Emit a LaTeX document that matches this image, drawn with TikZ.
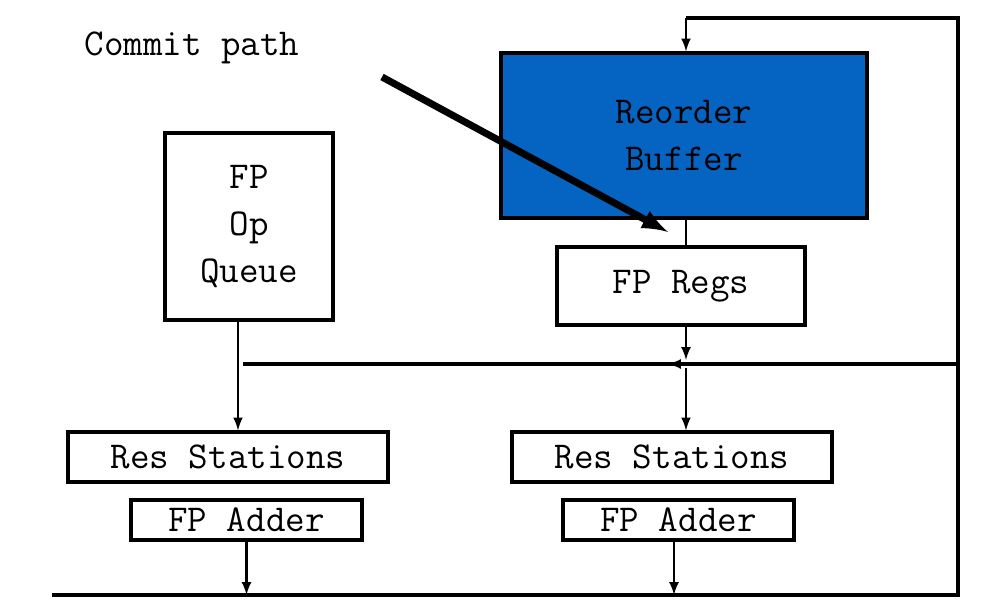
\documentclass[tikz,border=0pt]{standalone}
\usetikzlibrary{positioning}
\definecolor{robblue}{RGB}{5,99,193}

\tikzset{
  unit/.style={rectangle, draw, line width=1.9pt, inner sep=0pt, align=center,
    font=\ttfamily\fontsize{21.6}{27}\selectfont},
  wire/.style={line width=1.5pt},
  bus/.style={line width=2.3pt}
}

\begin{document}
\begin{tikzpicture}[x=0.02cm, y=-0.02cm, >=latex]
	\useasboundingbox (0,0) rectangle (995,612);
	\node(QUEUE) at (249, 226.5)[unit, minimum width=3.36cm, minimum height=3.74cm]{FP\\Op\\Queue};
	\node(ROB) at (684, 135.5)[unit, fill=robblue, minimum width=7.32cm, minimum height=3.3cm]{Reorder\\Buffer};
	\node(REGS) at (681, 286)[unit, minimum width=4.96cm, minimum height=1.56cm]{FP Regs};
	\node(RSL) at (228, 457)[unit, minimum width=6.4cm, minimum height=1cm]{Res Stations};
	\node(RSR) at (672, 457)[unit, minimum width=6.4cm, minimum height=1cm]{Res Stations};
	\node(ADDL) at (246.5, 520)[unit, minimum width=4.62cm, minimum height=0.8cm]{FP Adder};
	\node(ADDR) at (678.5, 520)[unit, minimum width=4.62cm, minimum height=0.8cm]{FP Adder};
	\node(COMMIT) at (192, 48)[font=\ttfamily\fontsize{21.6}{27}\selectfont]{Commit path};
	% buses
	\coordinate(BOTL) at (52, 595);
	\coordinate(BOTR) at (958, 595);
	\coordinate(TOPR) at (958, 18);
	\coordinate(TOPL) at (686, 18);
	\coordinate(MIDR) at (958, 364);
	\coordinate(MIDA) at (668, 364);
	\coordinate(MIDL) at (243, 364);
	\draw[bus] (BOTL) -- (BOTR) -- (TOPR) -- (TOPL);
	\draw[wire, ->] (TOPL) -- (TOPL |- ROB.north);
	\draw[bus] (MIDR) -- (MIDL);
	\draw[wire, ->] (MIDR) -- (MIDA);
	% connectors
	\draw[wire] ([xshift=0.04cm]ROB.south) -- ([xshift=0.04cm]ROB.south |- REGS.north);
	\draw[wire, ->] ([xshift=0.1cm]REGS.south) -- ([xshift=0.1cm, yshift=0.08cm]REGS.south |- MIDA);
	\draw[wire, ->] ([xshift=0.1cm, yshift=-0.08cm]REGS.south |- MIDA) -- ([xshift=0.1cm]REGS.south |- RSR.north);
	\draw[wire, ->] ([xshift=-0.22cm]QUEUE.south) -- ([xshift=-0.22cm]QUEUE.south |- RSL.north);
	\draw[wire, ->] (ADDL.south) -- (ADDL.south |- BOTL);
	\draw[wire, ->] ([xshift=-0.09cm]ADDR.south) -- ([xshift=-0.09cm]ADDR.south |- BOTR);
	% commit path
	\coordinate(CTAIL) at (382, 77);
	\coordinate(CHEAD) at (668, 232);
	\draw[line width=4pt, ->] (CTAIL) -- (CHEAD);
\end{tikzpicture}
\end{document}
